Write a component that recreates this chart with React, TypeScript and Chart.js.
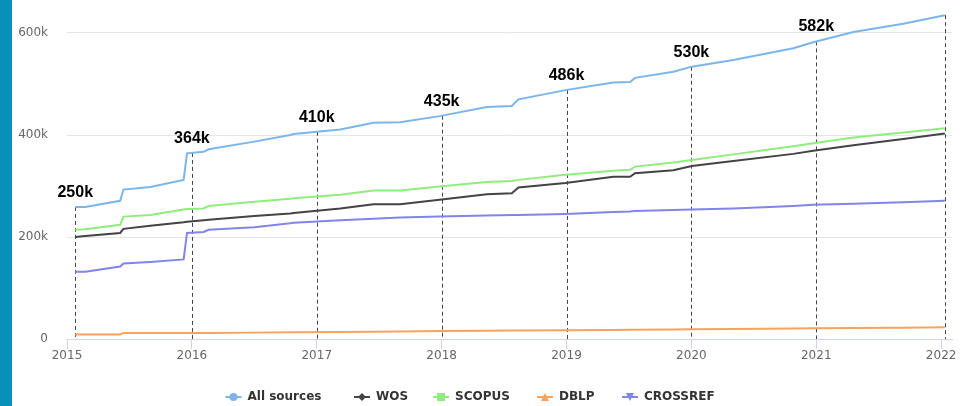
import React, { useEffect, useRef } from 'react';
import { Chart, registerables } from 'chart.js';

Chart.register(...registerables);

// Time positions (fractional years)
const dates = [
  2015.066, 2015.146, 2015.426, 2015.452, 2015.667, 2015.934, 2015.961, 2016.094,
  2016.134, 2016.5, 2016.788, 2016.815, 2017.188, 2017.455, 2017.668, 2017.983,
  2018.362, 2018.562, 2018.615, 2018.991, 2019.375, 2019.509, 2019.549, 2019.856,
  2020.003, 2020.336, 2020.816, 2020.976, 2021.297, 2021.697, 2022.03,
];

// Values in thousands
const allSources = [
  259, 259, 271, 293, 298, 312, 364, 367, 372, 387, 400, 402, 411, 424, 425, 437,
  455, 457, 470, 488, 503, 504, 512, 524, 534, 547, 570, 582, 602, 618, 635,
];
const wos = [
  200, 202, 208, 216, 222, 229, 230, 233, 234, 241, 246, 247, 256, 264, 264, 273,
  284, 286, 297, 306, 318, 318, 325, 331, 339, 349, 363, 369, 380, 392, 403,
];
const scopus = [
  214, 215, 224, 240, 243, 254, 255, 256, 261, 269, 275, 276, 283, 291, 291, 299,
  308, 310, 312, 322, 330, 332, 338, 346, 351, 362, 378, 384, 395, 405, 413,
];
const dblp = [
  9, 9, 9, 12, 12, 12, 12, 12, 12, 12.5, 13, 13, 13.5, 14, 14.5, 15.5,
  16, 16.5, 16.5, 17, 17.5, 18, 18, 18.5, 19, 19.5, 20.5, 21, 21.5, 22, 23,
];
const crossref = [
  132, 132, 142, 148, 151, 156, 208, 210, 214, 219, 227, 228, 233, 236, 238, 240,
  242, 243, 243, 245, 249, 250, 251, 253, 254, 256, 261, 263, 265, 268, 271,
];

const seriesNames = ['All sources', 'WOS', 'SCOPUS', 'DBLP', 'CROSSREF'];
const seriesColors = ['#7cb5ec', '#434348', '#90ed7d', '#f7a35c', '#8085e9'];
const seriesMarkers = ['circle', 'diamond', 'square', 'triangle', 'triangle-down'];

const xTicks = [2015, 2016, 2017, 2018, 2019, 2020, 2021, 2022];
const yTicks = [0, 200, 400, 600];

const markerDates = [2015.066, 2016, 2017, 2018, 2019, 2020, 2021, 2022.03];
const markerLabels = ['250k', '364k', '410k', '435k', '486k', '530k', '582k', ''];

function interp(xs: number[], ys: number[], x: number) {
  if (x <= xs[0]) return ys[0];
  for (let i = 1; i < xs.length; i++) {
    if (x <= xs[i]) {
      const t = (x - xs[i - 1]) / (xs[i] - xs[i - 1]);
      return ys[i - 1] + t * (ys[i] - ys[i - 1]);
    }
  }
  return ys[ys.length - 1];
}

function drawMarker(ctx: CanvasRenderingContext2D, kind: string, x: number, y: number, color: string) {
  ctx.save();
  ctx.fillStyle = color;
  ctx.beginPath();
  const r = 4;
  if (kind === 'circle') {
    ctx.arc(x, y, r, 0, Math.PI * 2);
  } else if (kind === 'diamond') {
    ctx.moveTo(x, y - r);
    ctx.lineTo(x + r, y);
    ctx.lineTo(x, y + r);
    ctx.lineTo(x - r, y);
    ctx.closePath();
  } else if (kind === 'square') {
    ctx.rect(x - r, y - r, 2 * r, 2 * r);
  } else if (kind === 'triangle') {
    ctx.moveTo(x, y - r);
    ctx.lineTo(x + r, y + r);
    ctx.lineTo(x - r, y + r);
    ctx.closePath();
  } else {
    ctx.moveTo(x - r, y - r);
    ctx.lineTo(x + r, y - r);
    ctx.lineTo(x, y + r);
    ctx.closePath();
  }
  ctx.fill();
  ctx.restore();
}

const decorPlugin = {
  id: 'decor',
  beforeDraw(chart: any) {
    const ctx = chart.ctx as CanvasRenderingContext2D;
    ctx.save();
    ctx.fillStyle = '#0591b8';
    ctx.fillRect(0, 0, 12, chart.height);
    ctx.restore();
  },
  beforeDatasetsDraw(chart: any) {
    const ctx = chart.ctx as CanvasRenderingContext2D;
    const xs = chart.scales.x;
    const ys = chart.scales.y;
    ctx.save();
    ctx.strokeStyle = '#444';
    ctx.lineWidth = 1;
    ctx.setLineDash([4, 3]);
    markerDates.forEach((d) => {
      const v = interp(dates, allSources, d);
      const px = Math.round(xs.getPixelForValue(d)) + 0.5;
      ctx.beginPath();
      ctx.moveTo(px, ys.getPixelForValue(v));
      ctx.lineTo(px, ys.getPixelForValue(0));
      ctx.stroke();
    });
    ctx.restore();
  },
  afterDraw(chart: any) {
    const ctx = chart.ctx as CanvasRenderingContext2D;
    const xs = chart.scales.x;
    const ys = chart.scales.y;
    ctx.save();
    ctx.fillStyle = '#000';
    ctx.font = 'bold 16px "Liberation Sans", Arial, sans-serif';
    ctx.textAlign = 'center';
    ctx.textBaseline = 'alphabetic';
    markerDates.forEach((d, i) => {
      if (!markerLabels[i]) return;
      const v = interp(dates, allSources, d);
      ctx.fillText(markerLabels[i], xs.getPixelForValue(d), ys.getPixelForValue(v) - 10);
    });
    // legend
    const symX = [233.5, 362, 441, 545, 630];
    const legendY = 397;
    ctx.font = 'bold 12px "DejaVu Sans", sans-serif';
    ctx.textAlign = 'left';
    ctx.textBaseline = 'middle';
    seriesNames.forEach((name, i) => {
      const cx = symX[i];
      ctx.strokeStyle = seriesColors[i];
      ctx.lineWidth = 2;
      ctx.setLineDash([]);
      ctx.beginPath();
      ctx.moveTo(cx - 8, legendY);
      ctx.lineTo(cx + 8, legendY);
      ctx.stroke();
      drawMarker(ctx, seriesMarkers[i], cx, legendY, seriesColors[i]);
      ctx.fillStyle = '#333';
      ctx.fillText(name, cx + 14, legendY);
    });
    ctx.restore();
  },
};

export default function App() {
  const ref = useRef<HTMLCanvasElement | null>(null);
  useEffect(() => {
    document.body.style.margin = '0';
    const canvas = ref.current!;
    const seriesValues = [allSources, wos, scopus, dblp, crossref];
    const chart = new Chart(canvas, {
      type: 'line',
      data: {
        datasets: seriesNames.map((name, i) => ({
          label: name,
          data: dates.map((d, j) => ({ x: d, y: seriesValues[i][j] })),
          borderColor: seriesColors[i],
          backgroundColor: seriesColors[i],
          borderWidth: 2,
          pointRadius: 0,
          tension: 0,
          fill: false,
          order: 5 - i,
        })),
      },
      options: {
        animation: false,
        responsive: false,
        devicePixelRatio: 1,
        layout: { padding: { left: 0, right: 12, top: 7.5, bottom: 0 } },
        plugins: { legend: { display: false }, tooltip: { enabled: false } },
        scales: {
          x: {
            type: 'linear',
            min: 2015,
            max: 2022.087,
            afterBuildTicks: (s: any) => {
              s.ticks = xTicks.map((v) => ({ value: v }));
            },
            afterFit: (s: any) => {
              s.height = 67;
            },
            border: { display: true, color: '#ccd6eb', width: 1 },
            grid: {
              drawOnChartArea: false,
              drawTicks: true,
              tickLength: 10,
              tickColor: '#ccd6eb',
              color: '#ccd6eb',
            },
            ticks: {
              autoSkip: false,
              maxRotation: 0,
              padding: 0,
              color: '#666',
              font: { family: '"DejaVu Sans", sans-serif', size: 12 },
              callback: (v: any) => String(v),
            },
          },
          y: {
            type: 'linear',
            min: 0,
            max: 650,
            afterBuildTicks: (s: any) => {
              s.ticks = yTicks.map((v) => ({ value: v }));
            },
            afterFit: (s: any) => {
              s.width = 67;
            },
            border: { display: false },
            grid: {
              color: '#e6e6e6',
              drawTicks: true,
              tickLength: 19,
              tickColor: 'rgba(0,0,0,0)',
              lineWidth: 1,
            },
            ticks: {
              padding: 0,
              color: '#666',
              font: { family: '"DejaVu Sans", sans-serif', size: 12 },
              callback: (v: any) => (v === 0 ? '0' : v + 'k'),
            },
          },
        },
      },
      plugins: [decorPlugin],
    });
    return () => chart.destroy();
  }, []);
  return (
    <div style={{ position: 'fixed', left: 0, top: 0, width: 964, height: 406, background: '#fff' }}>
      <canvas ref={ref} width={964} height={406} style={{ display: 'block', width: 964, height: 406 }} />
    </div>
  );
}
